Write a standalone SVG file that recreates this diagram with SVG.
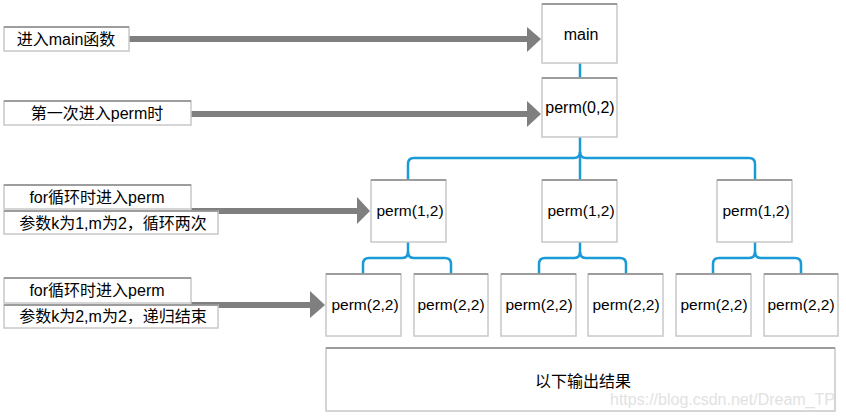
<svg xmlns="http://www.w3.org/2000/svg" width="846" height="419" viewBox="0 0 846 419">
<style>
.box{fill:#fff;stroke:#c8c8c8;stroke-width:1.5}
.top{stroke:#8a8a8a;stroke-width:1.5}
.t{font-family:"Liberation Sans","Noto Sans CJK SC",sans-serif;font-size:16px;fill:#000;text-anchor:middle}
.p{font-size:15.5px}
.arr{stroke:#7f7f7f;stroke-width:6;fill:none}
.head{fill:#7f7f7f}
.c{stroke:#1a9ad6;stroke-width:2.5;fill:none}
</style>
<rect width="846" height="419" fill="#fff"/>
<g id="connectors">
<path class="c" d="M580 63V78"/>
<path class="c" d="M580 137V152Q580 158 574 158H414Q408 158 408 164V180"/>
<path class="c" d="M580 152Q580 158 586 158H749Q755 158 755 164V180"/>
<path class="c" d="M580 152V180"/>
<path class="c" d="M408 242V252Q408 258 402 258H369Q363 258 363 264V274"/>
<path class="c" d="M408 252Q408 258 414 258H445Q451 258 451 264V274"/>
<path class="c" d="M580 242V252Q580 258 574 258H545Q539 258 539 264V274"/>
<path class="c" d="M580 252Q580 258 586 258H620Q626 258 626 264V274"/>
<path class="c" d="M755 242V252Q755 258 749 258H719Q713 258 713 264V274"/>
<path class="c" d="M755 252Q755 258 761 258H795Q801 258 801 264V274"/>
<path class="arr" d="M129 39H528"/><polygon class="head" points="527,27 541,39 527,52"/>
<path class="arr" d="M191 114H528"/><polygon class="head" points="527,101 541,114 527,127"/>
<path class="arr" d="M191 211H358"/><polygon class="head" points="357,197 370,211 357,224"/>
<path class="arr" d="M191 305H311"/><polygon class="head" points="310,291 325,305 310,318"/>
</g>
<g id="label1"><rect class="box" x="4" y="27" width="125" height="24"/><path class="top" d="M4 27H129"/><text class="t" x="66" y="45">进入main函数</text></g>
<g id="label2"><rect class="box" x="4" y="101" width="187" height="24"/><path class="top" d="M4 101H191"/><text class="t" x="97" y="119">第一次进入perm时</text></g>
<g id="label3"><rect class="box" x="4" y="185" width="187" height="24"/><path class="top" d="M4 185H191"/><text class="t" x="97" y="203">for循环时进入perm</text></g>
<g id="label4"><rect class="box" x="4" y="211" width="214" height="23"/><path class="top" d="M4 211H218"/><text class="t" x="113" y="229">参数k为1,m为2，循环两次</text></g>
<g id="label5"><rect class="box" x="4" y="278" width="187" height="25"/><path class="top" d="M4 278H191"/><text class="t" x="97" y="296">for循环时进入perm</text></g>
<g id="label6"><rect class="box" x="4" y="305" width="214" height="23"/><path class="top" d="M4 305H218"/><text class="t" x="113" y="322">参数k为2,m为2，递归结束</text></g>
<g id="main"><rect class="box" x="542" y="4" width="75" height="59"/><path class="top" d="M542 4H617"/><text class="t" x="581" y="40">main</text></g>
<g id="perm02"><rect class="box" x="542" y="78" width="75" height="59"/><path class="top" d="M542 78H617"/><text class="t" x="580" y="113">perm(0,2)</text></g>
<g id="perm12a"><rect class="box" x="371" y="180" width="75" height="62"/><path class="top" d="M371 180H446"/><text class="t p" x="410" y="216">perm(1,2)</text></g>
<g id="perm12b"><rect class="box" x="542" y="180" width="75" height="62"/><path class="top" d="M542 180H617"/><text class="t p" x="581" y="216">perm(1,2)</text></g>
<g id="perm12c"><rect class="box" x="717" y="180" width="75" height="62"/><path class="top" d="M717 180H792"/><text class="t p" x="756" y="216">perm(1,2)</text></g>
<g id="perm22a"><rect class="box" x="326" y="274" width="75" height="62"/><path class="top" d="M326 274H401"/><text class="t p" x="365" y="310">perm(2,2)</text></g>
<g id="perm22b"><rect class="box" x="414" y="274" width="74" height="62"/><path class="top" d="M414 274H488"/><text class="t p" x="451" y="310">perm(2,2)</text></g>
<g id="perm22c"><rect class="box" x="501" y="274" width="75" height="62"/><path class="top" d="M501 274H576"/><text class="t p" x="539" y="310">perm(2,2)</text></g>
<g id="perm22d"><rect class="box" x="588" y="274" width="75" height="62"/><path class="top" d="M588 274H663"/><text class="t p" x="626" y="310">perm(2,2)</text></g>
<g id="perm22e"><rect class="box" x="676" y="274" width="75" height="62"/><path class="top" d="M676 274H751"/><text class="t p" x="714" y="310">perm(2,2)</text></g>
<g id="perm22f"><rect class="box" x="764" y="274" width="74" height="62"/><path class="top" d="M764 274H838"/><text class="t p" x="801" y="310">perm(2,2)</text></g>
<g id="output"><rect class="box" x="326" y="348" width="509" height="63"/><path class="top" d="M326 348H835"/><text class="t" x="583" y="387">以下输出结果</text></g>
<text x="835" y="405" style="font-family:'Liberation Sans',sans-serif;font-size:16px;fill:#e2e2e2;text-anchor:end">https://blog.csdn.net/Dream_TP</text>
</svg>
